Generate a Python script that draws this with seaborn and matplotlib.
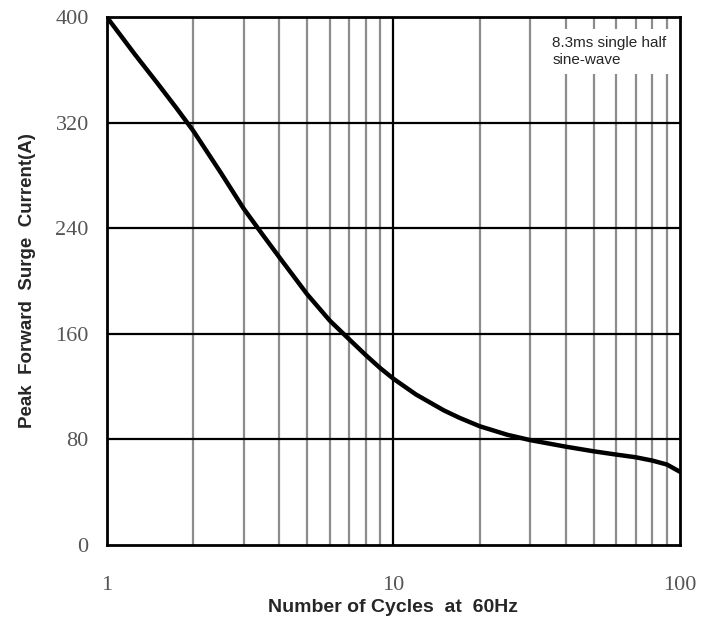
import numpy as np
import pandas as pd
import matplotlib
matplotlib.use("Agg")
import matplotlib.pyplot as plt
from matplotlib.ticker import FixedLocator, NullFormatter
import seaborn as sns

# values
cycles = [1, 1.25, 1.5, 1.75, 2, 2.5, 3, 3.5, 4, 5, 6, 7, 8, 9, 10, 12, 15, 17,
          20, 25, 30, 40, 50, 60, 70, 80, 90, 100]
current = [400, 372, 350, 331, 314, 282, 255, 235, 218, 190, 170, 156, 144, 134, 126, 114, 102, 96.4,
           90, 83.5, 79.5, 74.5, 71, 68.5, 66.5, 64, 61, 55.5]

y_ticks = [0, 80, 160, 240, 320, 400]
x_ticks = [1, 10, 100]
x_labels = ["1", "10", "100"]
note = "8.3ms single half\nsine-wave"

df = pd.DataFrame({"cycles": cycles, "current": current})

sns.set_style("white")
plt.rcParams["font.family"] = ["Liberation Sans", "DejaVu Sans"]

fig = plt.figure(figsize=(7.12, 6.19), dpi=100)
ax = fig.add_axes([0.150, 0.1195, 0.805, 0.853])

ax.set_xscale("log")
ax.set_xlim(1, 100)
ax.set_ylim(0, 400)

# grid: grey minor verticals, black majors
minor_x = [m * d for d in (1, 10) for m in range(2, 10)]
for xv in minor_x:
    ax.axvline(xv, color="#8c8c8c", lw=1.6, zorder=1)
ax.axvline(10, color="black", lw=1.6, zorder=1)
for yv in y_ticks[1:-1]:
    ax.axhline(yv, color="black", lw=1.6, zorder=1)

sns.lineplot(data=df, x="cycles", y="current", color="black", lw=3.2, ax=ax, zorder=3,
             solid_joinstyle="round", solid_capstyle="round")

ax.xaxis.set_major_locator(FixedLocator(x_ticks))
ax.set_xticklabels(x_labels)
ax.xaxis.set_minor_formatter(NullFormatter())
ax.set_yticks(y_ticks)
ax.tick_params(axis="both", which="both", length=0)
ax.tick_params(axis="x", pad=22)
ax.tick_params(axis="y", pad=13)
for lab in ax.get_xticklabels() + ax.get_yticklabels():
    lab.set_fontfamily(["Liberation Serif", "DejaVu Serif"])
    lab.set_fontsize(16)
    lab.set_color("#555555")

for sp in ax.spines.values():
    sp.set_visible(True)
    sp.set_color("black")
    sp.set_linewidth(2)

ax.set_xlabel("Number of Cycles  at  60Hz", fontsize=14, fontweight="bold", labelpad=3)
ax.set_ylabel("Peak  Forward  Surge  Current(A)", fontsize=13.5, fontweight="bold", labelpad=14)

ax.text(0.777, 0.965, note, transform=ax.transAxes, fontsize=11, va="top", ha="left",
        linespacing=1.3, zorder=4,
        bbox=dict(boxstyle="square,pad=0.45", facecolor="white", edgecolor="none"))

fig.savefig("out.png", dpi=100)
